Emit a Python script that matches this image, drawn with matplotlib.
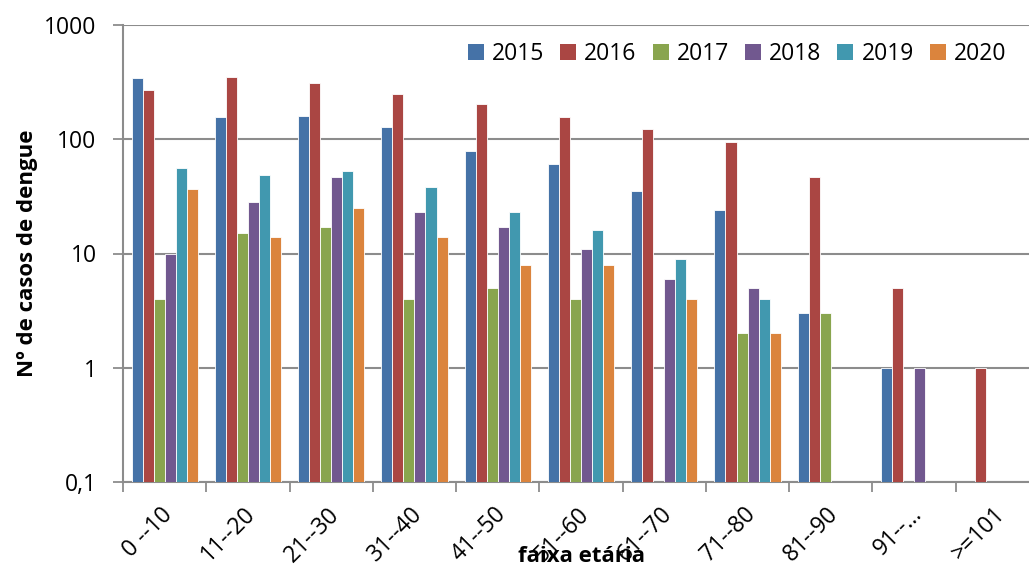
import numpy as np
import matplotlib.pyplot as plt
from matplotlib.patches import Patch

plt.rcParams['font.family'] = ['Open Sans', 'DejaVu Sans']

categories = ['0 --10', '11--20', '21--30', '31--40', '41--50', '51--60',
              '61--70', '71--80', '81--90', '91--…', '>=101']
nan = np.nan
cases = {
    '2015': [343, 156, 160, 128, 79, 61, 35, 24, 3, 1, nan],
    '2016': [268, 349, 310, 248, 203, 156, 123, 94, 47, 5, 1],
    '2017': [4, 15, 17, 4, 5, 4, nan, 2, 3, nan, nan],
    '2018': [10, 28, 47, 23, 17, 11, 6, 5, nan, 1, nan],
    '2019': [56, 49, 53, 38, 23, 16, 9, 4, nan, nan, nan],
    '2020': [37, 14, 25, 14, 8, 8, 4, 2, nan, nan, nan],
}
colors = ['#4572A7', '#AA4643', '#89A54E', '#71588F', '#4198AF', '#DB843D']
y_ticks = [0.1, 1, 10, 100, 1000]
y_ticklabels = ['0,1', '1', '10', '100', '1000']

FS = 16.5
W, H = 1029, 568
fig = plt.figure(figsize=(W / 100, H / 100), dpi=100)
# plot area: x 123..1039 px, y 25..482 px
ax = fig.add_axes([123 / W, 1 - 482 / H, (1039 - 123) / W, (482 - 25) / H])

n = len(categories)
k = len(cases)
group_w = 0.795
bw = group_w / k
x = np.arange(n)
for i, ((name, vals), c) in enumerate(zip(cases.items(), colors)):
    offs = -group_w / 2 + bw * (i + 0.5)
    ax.bar(x + offs, vals, width=bw, log=True, color=c, edgecolor='white',
           linewidth=0.6, label=name, zorder=3)

ax.set_ylim(0.1, 1000)
ax.set_xlim(-0.5, n - 0.5)
ax.set_yticks(y_ticks)
ax.set_yticklabels(y_ticklabels, fontsize=FS)
ax.minorticks_off()
ax.yaxis.grid(True, color='#8c8c8c', linewidth=1.5, zorder=0)

ax.set_xticks(np.arange(-0.5, n, 1.0))
ax.set_xticklabels([])
ax.tick_params(axis='x', length=7, color='#8c8c8c', width=1.3)
ax.tick_params(axis='y', length=7, color='#8c8c8c', width=1.3, pad=12)
for j, lab in enumerate(categories):
    ax.text(j - 0.05, -0.045, lab, transform=ax.get_xaxis_transform(),
            rotation=45, ha='right', va='top', fontsize=FS,
            rotation_mode='anchor')

for s in ['top', 'right']:
    ax.spines[s].set_visible(False)
for s in ['left', 'bottom']:
    ax.spines[s].set_color('#8c8c8c')
    ax.spines[s].set_linewidth(1.5)

fig.text(28 / W, 1 - 253 / H, 'Nº de casos de dengue', fontsize=16,
         fontweight='bold', rotation=90, ha='center', va='center')
fig.text(582 / W, 1 - 557 / H, 'faixa etária', fontsize=16,
         fontweight='bold', ha='center', va='center')

handles = [Patch(facecolor=c, label=nm) for nm, c in zip(cases, colors)]
fig.legend(handles=handles, loc='center', ncol=6, frameon=False,
           bbox_to_anchor=(737 / W, 1 - 54 / H), fontsize=FS,
           handlelength=0.7, handleheight=0.7, handletextpad=0.35,
           columnspacing=0.7)

fig.savefig('out.png', dpi=100)
